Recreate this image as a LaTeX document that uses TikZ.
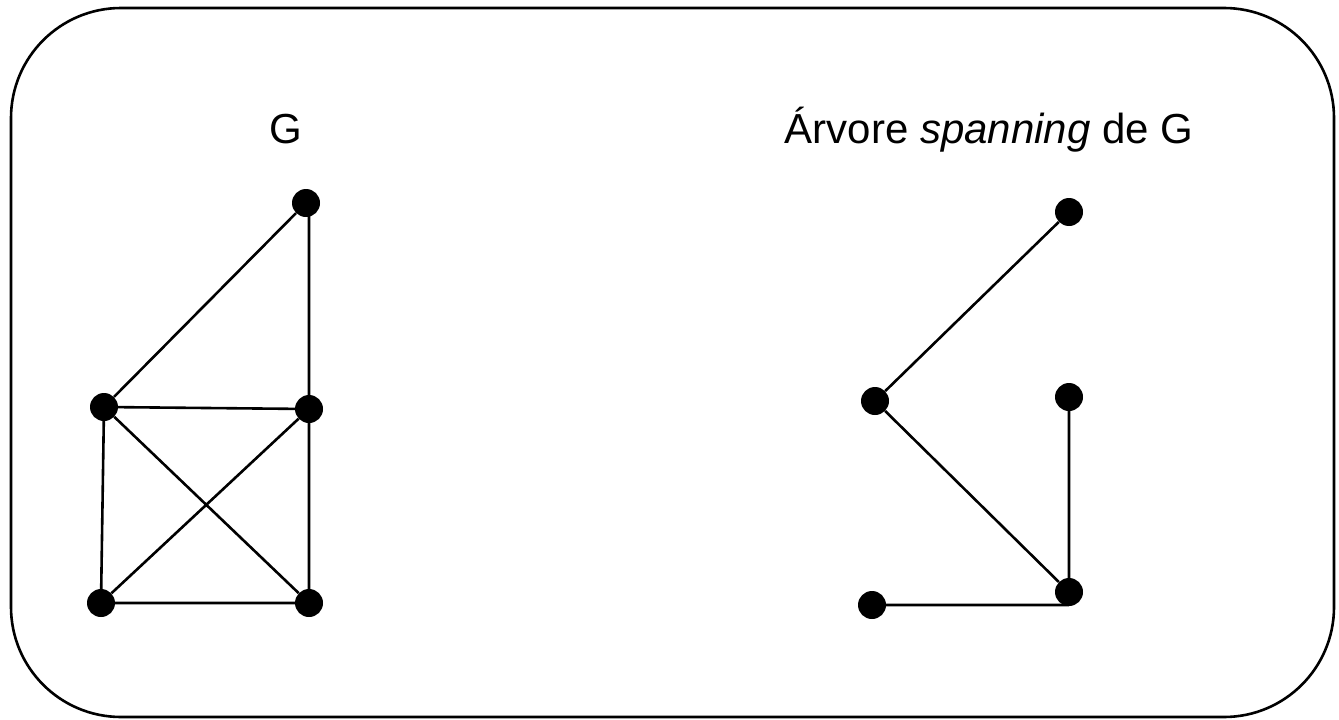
\documentclass[tikz,border=0pt]{standalone}
\usepackage{fontspec}
\setmainfont{Liberation Sans}
\begin{document}
\begin{tikzpicture}[x=1pt,y=-1pt,
  vtx/.style={circle,fill=black,inner sep=0pt,minimum size=28pt},
  edge/.style={line width=2.6pt},
  lbl/.style={font=\fontsize{42}{50}\selectfont,inner sep=0pt}]
\useasboundingbox (0,0) rectangle (1339,720);
\draw[line width=2.6pt,rounded corners=110pt] (11,8) rectangle (1334,717);
% left graph
\node[lbl] (lg) at (286,129) {G};
\node[vtx] (a) at (306,203) {};
\node[vtx] (b) at (104,407) {};
\node[vtx] (c) at (309,409) {};
\node[vtx] (d) at (101,603) {};
\node[vtx] (e) at (309,603) {};
\draw[edge] (a) -- (b) (c) -- (c|-a) (b) -- (c) (b) -- (d) (b) -- (e)
  (c) -- (d) (c) -- (e) (d) -- (e);
% right graph
\node[lbl] (rg) at (989,130) {Árvore \textit{spanning} de G};
\node[vtx] (p) at (1069,212) {};
\node[vtx] (q) at (875,401) {};
\node[vtx] (r) at (1069,397) {};
\node[vtx] (s) at (1069,592) {};
\node[vtx] (t) at (872,605) {};
\draw[edge] (p) -- (q) (q) -- (s) (r) -- (s) (t) -- (t-|s);
\end{tikzpicture}
\end{document}
